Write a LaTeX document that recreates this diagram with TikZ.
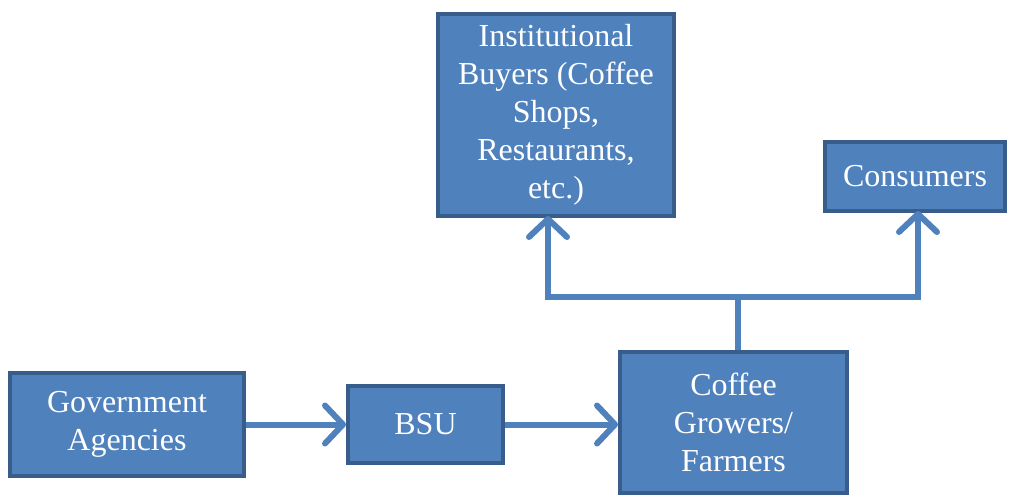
\documentclass[tikz,border=0pt]{standalone}
\usepackage{fontspec}
\setmainfont{Liberation Serif}
\usetikzlibrary{arrows.meta}
\definecolor{boxfill}{HTML}{4F81BD}
\definecolor{boxline}{HTML}{385D8A}

\begin{document}
\begin{tikzpicture}[x=1pt,y=-1pt,
  box/.style={draw=boxline,fill=boxfill,line width=4pt,text=white,align=center,
    inner sep=0pt,font=\fontsize{32}{38}\selectfont},
  link/.style={draw=boxfill,line width=6pt},
  flow/.style={link,-{Straight Barb[length=18pt,width=38pt,round]}}]
\useasboundingbox (0,0) rectangle (1012,498);
\node[box,minimum width=236pt,minimum height=202pt] (inst) at (556,115)
  {Institutional\\Buyers (Coffee\\Shops,\\Restaurants,\\etc.)};
\node[box,minimum width=180pt,minimum height=69pt] (cons) at (915,176.5) {Consumers};
\node[box,minimum width=234pt,minimum height=103pt] (gov) at (127,424.5) {Government\\Agencies};
\node[box,minimum width=155pt,minimum height=77pt] (bsu) at (425.5,424.5) {BSU};
\node[box,minimum width=227pt,minimum height=141pt] (coffee) at (733.5,422.5) {Coffee\\Growers/\\Farmers};
\coordinate (split) at (738,297);
% flows
\draw[flow] (gov.east) -- (bsu.west);
\draw[flow] (bsu.east) -- (bsu.east -| coffee.west);
\draw[link] ([xshift=4.5pt]coffee.north) -- (split);
\draw[flow] (split) -| ([xshift=-8pt,yshift=2pt]inst.south);
\draw[flow] (split) -| ([xshift=3pt,yshift=2pt]cons.south);
\end{tikzpicture}
\end{document}
